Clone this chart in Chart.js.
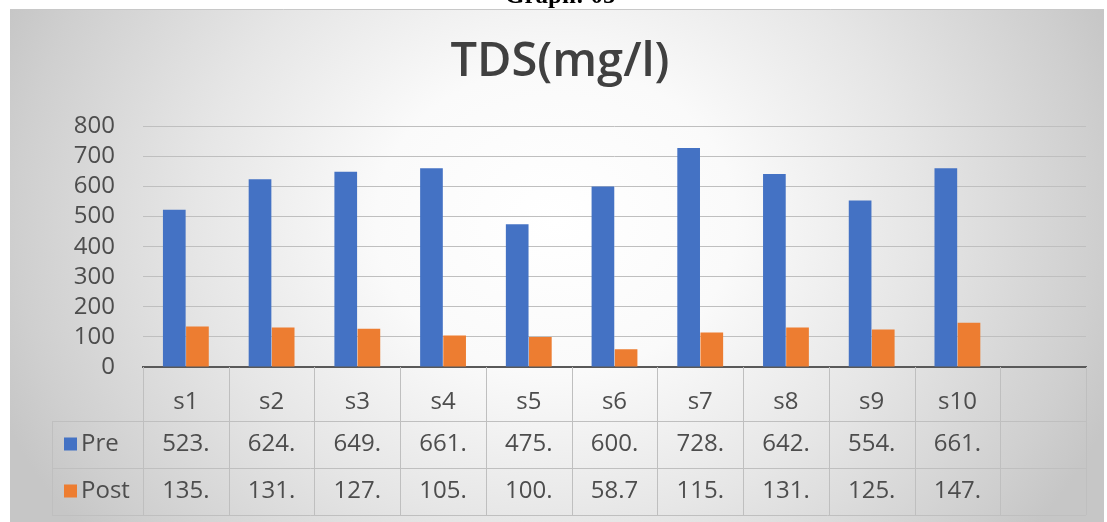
<!DOCTYPE html>
<html>
<head>
<meta charset="utf-8">
<script src="https://cdn.jsdelivr.net/npm/chart.js@4.4.1/dist/chart.umd.min.js"></script>
<style>
  body { margin: 0; background: #fff; overflow: hidden; }
  #wrap { position: relative; width: 1107px; height: 522px; }
  #caption {
    position: absolute; left: 505px; top: -18px;
    font: bold 25px "Liberation Serif", serif; color: #000;
    line-height: 25px; white-space: nowrap; z-index: 2;
  }
  canvas { position: absolute; left: 0; top: 0; }
</style>
</head>
<body>
<div id="wrap">
  <div id="caption">Graph: 05</div>
  <canvas id="tdsChart" width="1107" height="522"></canvas>
</div>
<script>
// Data
const sites = ["s1", "s2", "s3", "s4", "s5", "s6", "s7", "s8", "s9", "s10", ""];
const preValues = [523, 624, 649, 661, 475, 600, 728, 642, 554, 661];
const postValues = [135, 131, 127, 105, 100, 58.7, 115, 131, 125, 147];
const yTicks = [0, 100, 200, 300, 400, 500, 600, 700, 800];

const BLUE = "#4472C4";
const ORANGE = "#ED7D31";
const TEXT = "#4d4d4d";
const LINE = "#bfbfbf";
const FONT = "'Open Sans', sans-serif";

// cells in the data table look clipped to 4 characters
function cellText(v) {
    return v.toFixed(1).slice(0, 4);
}

// gradient frame behind everything
const framePlugin = {
    id: "frame",
    beforeDraw(chart) {
        const ctx = chart.ctx;
        ctx.save();
        ctx.fillStyle = "#ffffff";
        ctx.fillRect(0, 0, chart.width, chart.height);
        ctx.translate(556, 220);
        ctx.scale(1, 0.85);
        let g = ctx.createRadialGradient(0, 0, 0, 0, 0, 600);
        g.addColorStop(0, "#ffffff");
        g.addColorStop(0.3, "#fafafa");
        g.addColorStop(0.6, "#e6e6e6");
        g.addColorStop(0.9, "#cfcfcf");
        g.addColorStop(1, "#c6c6c6");
        ctx.fillStyle = g;
        ctx.fillRect(10 - 556, (9 - 220) / 0.85, 1094, 513 / 0.85);
        ctx.restore();
        ctx.save();
        ctx.strokeStyle = "#c8c8c8";
        ctx.lineWidth = 1;
        ctx.beginPath();
        ctx.moveTo(10, 9.5);
        ctx.lineTo(1104, 9.5);
        ctx.stroke();
        ctx.restore();
    }
};

// data table under the x axis
const tablePlugin = {
    id: "dataTable",
    afterDraw(chart) {
        const ctx = chart.ctx;
        const x = chart.scales.x;
        const top = chart.chartArea.bottom;
        const headBottom = top + 54;
        const preBottom = headBottom + 47;
        const postBottom = preBottom + 47;
        const legendLeft = 52;
        const half = (x.right - x.left) / sites.length / 2;

        ctx.save();
        ctx.strokeStyle = LINE;
        ctx.lineWidth = 1;
        ctx.beginPath();
        for (let i = 0; i <= sites.length; i++) {
            const px = Math.round(x.left + i * half * 2) + 0.5;
            ctx.moveTo(px, top);
            ctx.lineTo(px, postBottom);
        }
        ctx.moveTo(legendLeft + 0.5, headBottom);
        ctx.lineTo(legendLeft + 0.5, postBottom);
        [headBottom, preBottom, postBottom].forEach(y => {
            ctx.moveTo(legendLeft, Math.round(y) + 0.5);
            ctx.lineTo(x.right, Math.round(y) + 0.5);
        });
        ctx.stroke();

        ctx.font = "24px " + FONT;
        ctx.fillStyle = TEXT;
        ctx.textAlign = "center";
        ctx.textBaseline = "middle";
        const preY = (headBottom + preBottom) / 2;
        const postY = (preBottom + postBottom) / 2;
        preValues.forEach((v, i) => ctx.fillText(cellText(v), x.getPixelForValue(i), preY));
        postValues.forEach((v, i) => ctx.fillText(cellText(v), x.getPixelForValue(i), postY));

        // legend keys
        ctx.textAlign = "left";
        const rows = [
            { label: chart.data.datasets[0].label, color: BLUE, y: preY },
            { label: chart.data.datasets[1].label, color: ORANGE, y: postY }
        ];
        rows.forEach(r => {
            ctx.fillStyle = r.color;
            ctx.fillRect(64, r.y - 7, 13, 13);
            ctx.fillStyle = TEXT;
            ctx.fillText(r.label, 81, r.y);
        });
        ctx.restore();
    }
};

const ctx = document.getElementById("tdsChart").getContext("2d");
const tdsChart = new Chart(ctx, {
    type: "bar",
    data: {
        labels: sites,
        datasets: [
            { label: "Pre", data: preValues, backgroundColor: BLUE },
            { label: "Post", data: postValues, backgroundColor: ORANGE }
        ]
    },
    options: {
        responsive: false,
        animation: false,
        devicePixelRatio: 1,
        layout: { padding: { left: 34, right: 21, top: 0, bottom: 0 } },
        datasets: {
            bar: { categoryPercentage: 0.54, barPercentage: 0.98 }
        },
        plugins: {
            legend: { display: false },
            tooltip: { enabled: false },
            title: {
                display: true,
                text: "TDS(mg/l)",
                color: "#404040",
                font: { family: FONT, size: 47, weight: "600", lineHeight: 1.2 },
                padding: { top: 34, bottom: 36 }
            }
        },
        scales: {
            x: {
                grid: { display: false },
                border: { display: true, color: "#595959", width: 2 },
                ticks: {
                    color: TEXT,
                    font: { family: FONT, size: 24 },
                    padding: 13,
                    maxRotation: 0,
                    autoSkip: false
                },
                afterFit: scale => { scale.height = 155; }
            },
            y: {
                min: 0,
                max: 800,
                afterBuildTicks: scale => { scale.ticks = yTicks.map(v => ({ value: v })); },
                grid: { color: LINE, drawTicks: false },
                border: { display: false },
                ticks: {
                    color: TEXT,
                    font: { family: FONT, size: 24 },
                    padding: 28,
                    autoSkip: false
                },
                afterFit: scale => { scale.width = 143 - 34; }
            }
        }
    },
    plugins: [framePlugin, tablePlugin]
});
</script>
</body>
</html>
